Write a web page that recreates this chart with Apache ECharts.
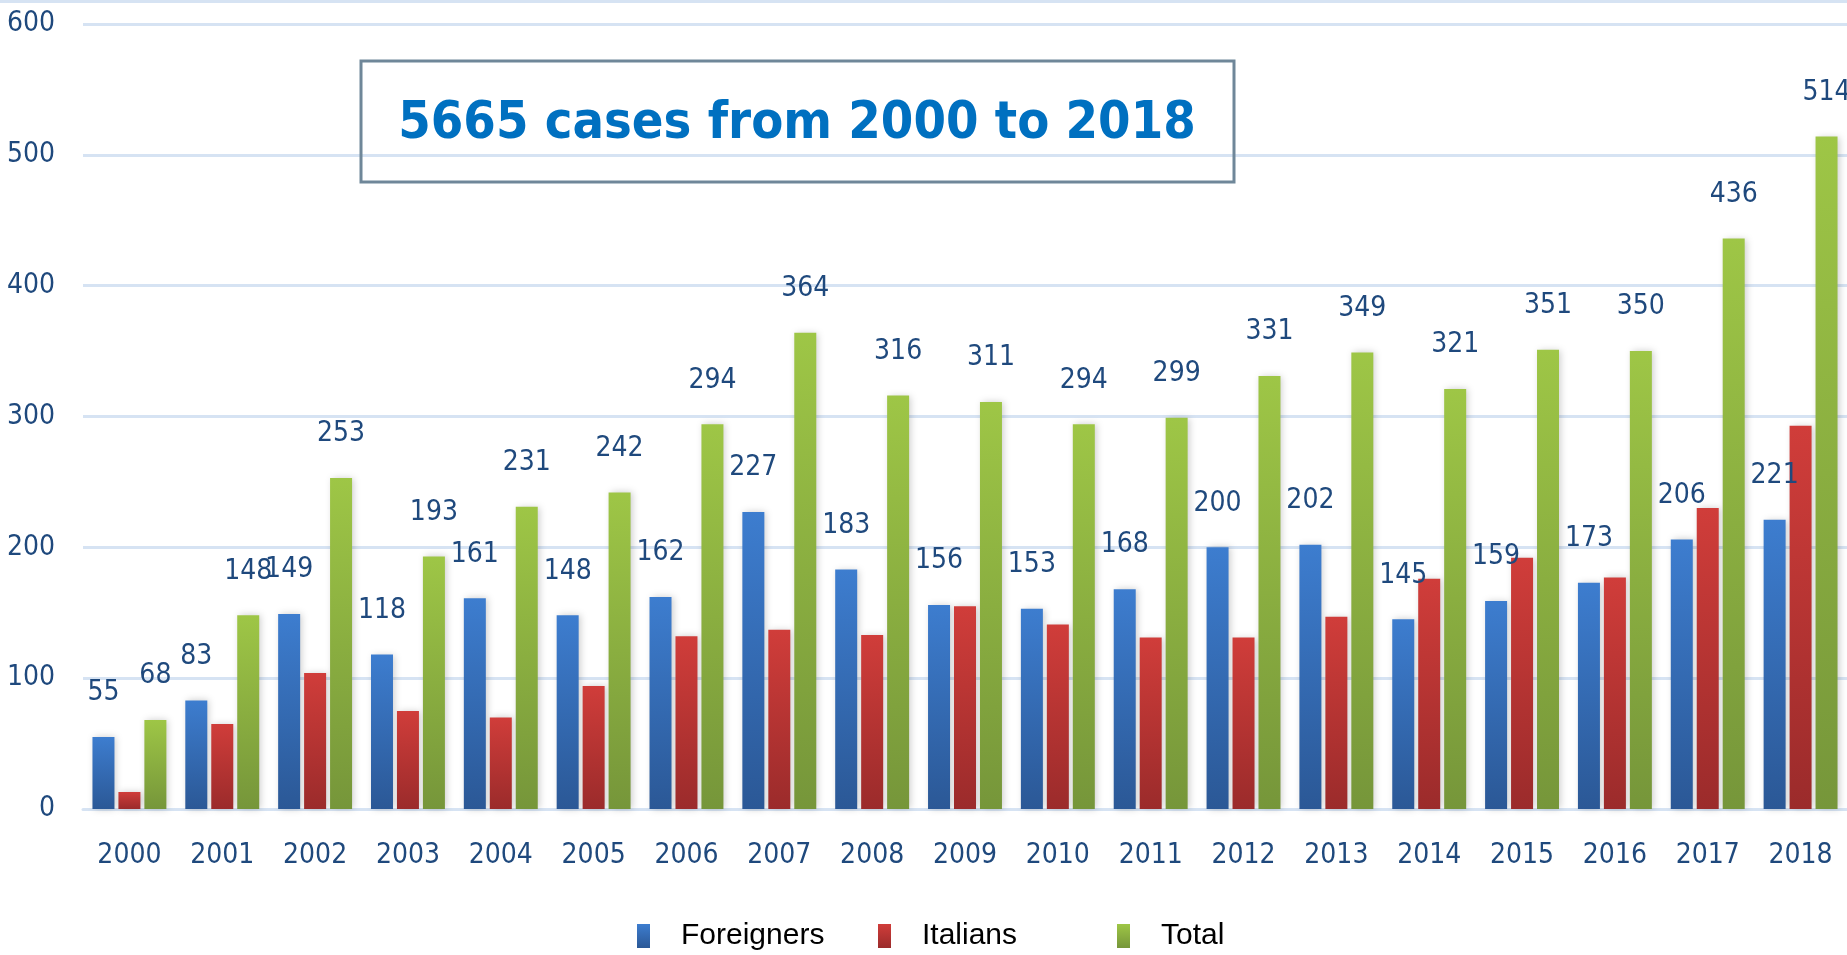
<!DOCTYPE html>
<html>
<head>
<meta charset="utf-8">
<script src="https://cdn.jsdelivr.net/npm/echarts@6/dist/echarts.min.js"></script>
<style>
html,body{margin:0;padding:0;background:#fff;}
#chart{width:1847px;height:955px;}
</style>
</head>
<body>
<div id="chart"></div>
<script>
const years = ['2000','2001','2002','2003','2004','2005','2006','2007','2008','2009','2010','2011','2012','2013','2014','2015','2016','2017','2018'];
const foreigners = [55, 83, 149, 118, 161, 148, 162, 227, 183, 156, 153, 168, 200, 202, 145, 159, 173, 206, 221];
const italians = [13, 65, 104, 75, 70, 94, 132, 137, 133, 155, 141, 131, 131, 147, 176, 192, 177, 230, 293];
const totals = [68, 148, 253, 193, 231, 242, 294, 364, 316, 311, 294, 299, 331, 349, 321, 351, 350, 436, 514];
const seriesNames = ['Foreigners', 'Italians', 'Total'];
const yTicks = { min: 0, max: 600, interval: 100 };
const titleText = '5665 cases from 2000 to 2018';

const FONT = "'DejaVu Sans Condensed', 'Liberation Sans Narrow', 'Noto Sans', sans-serif";
const NAVY = '#1F497D';
function grad(top, bottom) {
  return new echarts.graphic.LinearGradient(0, 0, 0, 1, [
    { offset: 0, color: top }, { offset: 1, color: bottom }
  ]);
}
const colors = [grad('#3D7DCF', '#2B5896'), grad('#D03D3A', '#9B2B2B'), grad('#9EC646', '#76963A')];

const chart = echarts.init(document.getElementById('chart'), null, { renderer: 'canvas' });

const labelCfg = {
  show: true, position: 'top', distance: 30,
  color: NAVY, fontFamily: FONT, fontSize: 28
};
const barBase = {
  type: 'bar', barWidth: 22, barGap: '18%',
  itemStyle: { shadowBlur: 7, shadowColor: 'rgba(0,0,0,0.2)', shadowOffsetX: 2 }
};

const legendPos = [637, 878, 1117];
const option = {
  animation: false,
  backgroundColor: '#fff',
  color: colors,
  grid: { left: 83, right: 0, top: 24, bottom: 146, containLabel: false },
  legend: seriesNames.map((n, i) => ({
    data: [n], left: legendPos[i], bottom: 4, padding: 0, itemWidth: 13, itemHeight: 24,
    itemGap: 0, icon: 'rect',
    textStyle: { fontFamily: "'Liberation Sans', Arial, sans-serif", fontSize: 30, color: '#000', padding: [0, 0, 0, 26] }
  })),
  xAxis: {
    type: 'category', data: years,
    axisLine: { show: true, lineStyle: { color: '#D6E3F3', width: 3 } },
    axisTick: { show: false },
    axisLabel: { color: NAVY, fontFamily: FONT, fontSize: 28, margin: 33 }
  },
  yAxis: {
    type: 'value', min: yTicks.min, max: yTicks.max, interval: yTicks.interval,
    axisLine: { show: false }, axisTick: { show: false },
    splitLine: { lineStyle: { color: '#D6E3F3', width: 3 } },
    axisLabel: { color: NAVY, fontFamily: FONT, fontSize: 28, margin: 28 }
  },
  graphic: [
    { type: 'rect', shape: { x: 0, y: 0, width: 1847, height: 3 }, style: { fill: '#D6E3F3' }, z: 0 },
    { type: 'rect', shape: { x: 361, y: 61, width: 873, height: 121 },
      style: { fill: 'rgba(0,0,0,0)', stroke: '#6F8799', lineWidth: 3 }, z: 10 },
    { type: 'text', x: 797, y: 124,
      style: { text: titleText, fill: '#0070C0', fontFamily: FONT, fontWeight: 'bold', fontSize: 52, align: 'center', verticalAlign: 'middle' }, z: 10 }
  ],
  series: [
    Object.assign({}, barBase, { name: seriesNames[0], data: foreigners, label: labelCfg }),
    Object.assign({}, barBase, { name: seriesNames[1], data: italians, label: { show: false } }),
    Object.assign({}, barBase, { name: seriesNames[2], data: totals, label: labelCfg })
  ]
};
chart.setOption(option);
</script>
</body>
</html>
